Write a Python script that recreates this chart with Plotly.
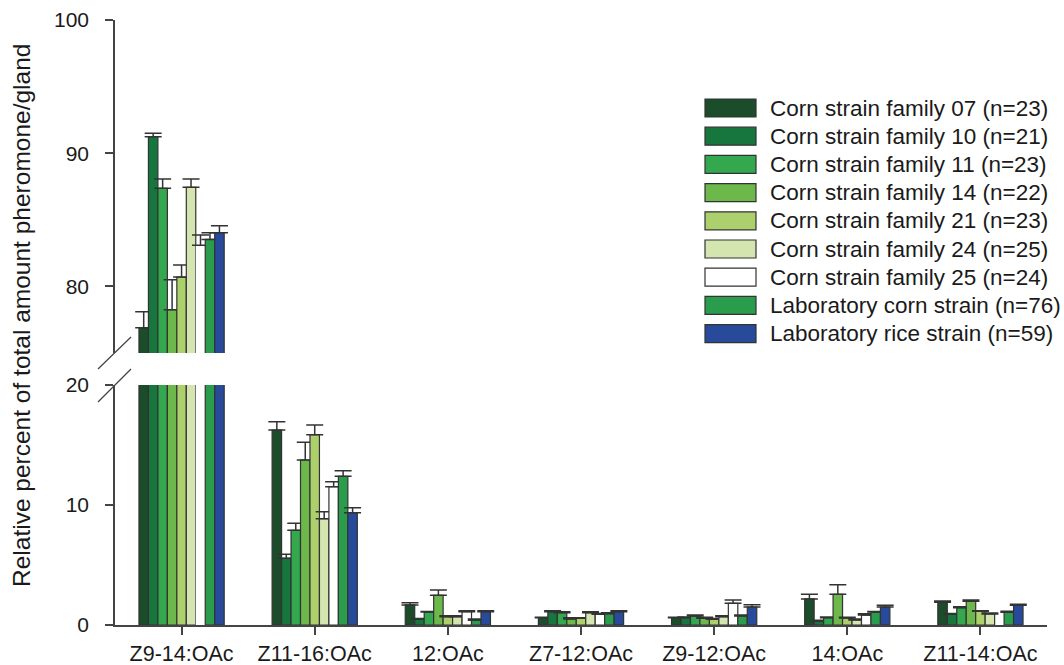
import plotly.graph_objects as go

# Pheromone components on the x axis
categories = ["Z9-14:OAc", "Z11-16:OAc", "12:OAc", "Z7-12:OAc", "Z9-12:OAc", "14:OAc", "Z11-14:OAc"]

# Series labels
series_names = [
    "Corn strain family 07 (n=23)",
    "Corn strain family 10 (n=21)",
    "Corn strain family 11 (n=23)",
    "Corn strain family 14 (n=22)",
    "Corn strain family 21 (n=23)",
    "Corn strain family 24 (n=25)",
    "Corn strain family 25 (n=24)",
    "Laboratory corn strain (n=76)",
    "Laboratory rice strain (n=59)",
]

# Mean relative percent per component
fam07_mean = [76.9, 16.25, 1.67, 0.61, 0.61, 2.17, 1.89]
fam10_mean = [91.24, 5.56, 0.47, 1.11, 0.61, 0.31, 0.89]
fam11_mean = [87.36, 7.89, 1.08, 1.03, 0.75, 0.61, 1.44]
fam14_mean = [78.25, 13.75, 2.47, 0.50, 0.56, 2.56, 1.97]
fam21_mean = [80.7, 15.86, 0.69, 0.56, 0.47, 0.58, 1.14]
fam24_mean = [87.44, 8.86, 0.69, 1.03, 0.69, 0.42, 0.92]
fam25_mean = [83.09, 11.53, 1.11, 0.89, 1.81, 0.83, None]
labcorn_mean = [83.53, 12.39, 0.39, 0.94, 0.75, 1.08, 1.06]
labrice_mean = [84.03, 9.36, 1.11, 1.11, 1.50, 1.50, 1.64]

# Standard error (upper whisker only)
fam07_se = [1.2, 0.69, 0.19, 0.04, 0.04, 0.39, 0.11]
fam10_se = [0.26, 0.33, 0.08, 0.08, 0.06, 0.09, 0.06]
fam11_se = [0.70, 0.58, 0.05, 0.07, 0.08, 0.06, 0.09]
fam14_se = [2.25, 1.47, 0.45, 0.10, 0.08, 0.80, 0.11]
fam21_se = [0.90, 0.81, 0.09, 0.05, 0.08, 0.06, 0.05]
fam24_se = [0.62, 0.58, 0.08, 0.07, 0.09, 0.08, 0.08]
fam25_se = [0.77, 0.41, 0.08, 0.06, 0.27, 0.11, None]
labcorn_se = [0.50, 0.47, 0.10, 0.09, 0.08, 0.05, 0.08]
labrice_se = [0.53, 0.42, 0.08, 0.08, 0.19, 0.14, 0.08]

means = [fam07_mean, fam10_mean, fam11_mean, fam14_mean, fam21_mean,
         fam24_mean, fam25_mean, labcorn_mean, labrice_mean]
errors = [fam07_se, fam10_se, fam11_se, fam14_se, fam21_se,
          fam24_se, fam25_se, labcorn_se, labrice_se]

colors = ["#1b4d2a", "#16763e", "#33a84e", "#6db84a", "#acd06c",
          "#d4e5b0", "#ffffff", "#2a9d4c", "#274b9a"]

OUTLINE = "#333333"
TEXT = "#1a1a1a"
FONT = "Liberation Sans, Arial, sans-serif"

W, H = 1064, 665
ML, MR, MT, MB = 115, 17, 20, 40
PW, PH = W - ML - MR, H - MT - MB


def px_x(x):
    return (x - ML) / PW


def px_y(y):
    return (H - MB - y) / PH


lower_top = px_y(385)
upper_bottom = px_y(353)

fig = go.Figure()

for i, (name, m, e, c) in enumerate(zip(series_names, means, errors, colors)):
    widths = [1.2] * len(categories)
    if i == 6:
        widths = [0 if (k == 0) else 1.2 for k in range(len(categories))]
    for xa, ya in (("x", "y"), ("x2", "y2")):
        fig.add_trace(go.Bar(
            x=categories, y=m, name=name, showlegend=False,
            xaxis=xa, yaxis=ya,
            marker=dict(color=c, line=dict(color=OUTLINE, width=widths)),
            error_y=dict(type="data", array=e, arrayminus=[0] * len(e),
                         symmetric=False, color=OUTLINE, thickness=1.5, width=8.5),
        ))

axis_common = dict(showline=True, linecolor="#444444", linewidth=1.5,
                   ticks="outside", ticklen=8, tickcolor="#444444", tickwidth=1.5,
                   showgrid=False, zeroline=False, automargin=False)

fig.update_layout(
    width=W, height=H,
    margin=dict(l=ML, r=MR, t=MT, b=MB, autoexpand=False),
    paper_bgcolor="white", plot_bgcolor="white",
    barmode="group", bargap=0.36, bargroupgap=0,
    showlegend=False,
    xaxis=dict(domain=[0, 1], anchor="y", range=[-0.5, 6.5],
               tickfont=dict(family=FONT, size=21.5, color=TEXT), **axis_common),
    xaxis2=dict(domain=[0, 1], anchor="y2", matches="x", visible=False),
    yaxis=dict(domain=[0, lower_top], anchor="x", range=[0, 20],
               tickvals=[0, 10, 20], ticklabelstandoff=12,
               tickfont=dict(family=FONT, size=21, color=TEXT), **axis_common),
    yaxis2=dict(domain=[upper_bottom, 1], anchor="x2", range=[75, 100],
                tickvals=[80, 90, 100], ticklabelstandoff=12,
                tickfont=dict(family=FONT, size=21, color=TEXT), **axis_common),
)

# Axis break marks
shapes = []
for (x0, y0, x1, y1) in [(98, 369, 131, 337), (98, 402, 131, 369)]:
    shapes.append(dict(type="line", xref="paper", yref="paper",
                       x0=px_x(x0), y0=px_y(y0), x1=px_x(x1), y1=px_y(y1),
                       line=dict(color="#444444", width=1.3)))

# Legend drawn as wide swatches with labels
annotations = []
for i, (name, c) in enumerate(zip(series_names, colors)):
    yc = 108 + i * 28.2
    shapes.append(dict(type="rect", xref="paper", yref="paper",
                       x0=px_x(705), x1=px_x(756), y0=px_y(yc + 9), y1=px_y(yc - 9),
                       fillcolor=c, line=dict(color=OUTLINE, width=1.2)))
    annotations.append(dict(xref="paper", yref="paper", x=px_x(768), y=px_y(yc),
                            xanchor="left", yanchor="middle", showarrow=False,
                            text=name, font=dict(family=FONT, size=22.5, color=TEXT)))

annotations.append(dict(xref="paper", yref="paper", x=px_x(21), y=px_y(316),
                        xanchor="center", yanchor="middle", showarrow=False,
                        textangle=-90,
                        text="Relative percent of total amount pheromone/gland",
                        font=dict(family=FONT, size=24.5, color=TEXT)))

fig.update_layout(shapes=shapes, annotations=annotations)

fig.write_html("out.html")
